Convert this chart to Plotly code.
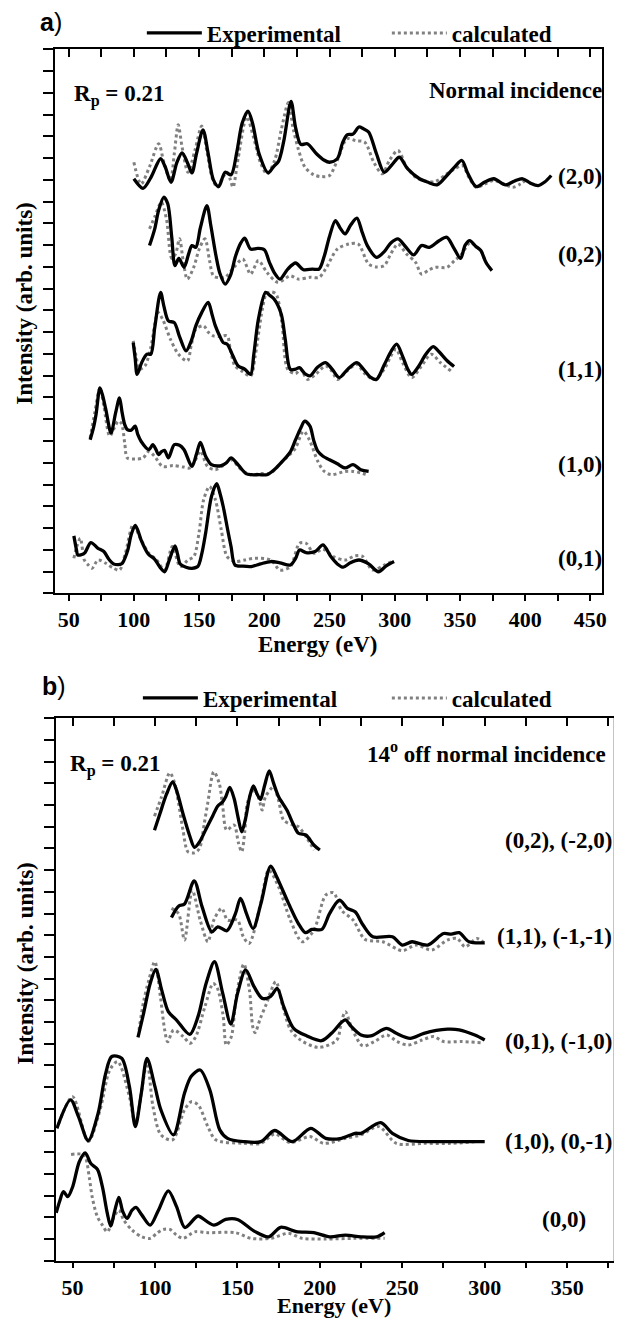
import plotly.graph_objects as go

# ---------------- data (energy eV, intensity in offset arb. units) ----------------
# Panel a) normal incidence
A20_EXP = [(100,19.05),(107,18.61),(113,19.1),(120.5,19.97),(124,19.6),(128.5,18.89),(133,19.8),(137,20.24),(141,19.8),(144.5,19.32),
           (148,20.2),(153,21.30),(157,20.2),(161,19.0),(165,18.69),(170,19.35),(174.5,19.23),(179,20.3),(183,21.6),(187.5,22.16),
           (191,21.6),(196,20.2),(203,19.32),(207,19.6),(211,19.86),(215,20.8),(220.5,22.61),(224,21.4),(228,20.63),(233,20.66),
           (240,20.2),(246,19.9),(250,19.81),(256,19.97),(260,20.7),(263.5,21.07),(268,21.1),(272.5,21.43),(276,21.35),(280,21.2),
           (286,20.2),(292,19.35),(298,19.7),(303.5,20.04),(310,19.5),(319,19.05),(325,18.9),(332.5,18.77),(340,19.2),(346,19.6),
           (351.5,19.89),(356,19.3),(362.5,18.69),(369,18.9),(376,19.05),(385,18.77),(392,18.95),(398,19.05),(404,18.85),(410,18.74),
           (415,18.9),(420,19.20)]
A20_CALC = [(100,19.81),(105.5,18.81),(112,19.6),(119,20.66),(123,19.8),(128,18.97),(131,20.2),(134,21.53),(137,20.5),(141.5,19.35),
            (147,20.4),(152,21.47),(156,20.3),(160,19.1),(164,18.66),(168,19.1),(171.5,19.35),(174,19.0),(176,18.66),(180,20.0),
            (186.5,21.89),(192,20.9),(197,19.8),(202,19.28),(208,19.9),(213,21.3),(218.5,22.55),(222,21.4),(226,20.43),(231,19.6),
            (238,19.23),(244,19.15),(250,19.20),(256,19.9),(263.5,20.89),(270,20.8),(277,20.73),(284,19.8),(290.5,19.28),(296,19.9),
            (302.5,20.35),(309,19.6),(316,19.12),(323,18.95),(331,18.92),(340,19.28),(346,19.5),(352,19.66),(357,19.1),(362.5,18.66),
            (369,18.8),(376,18.97),(384,18.8),(390.5,18.66),(396,18.8),(400,18.97)]
A02_EXP = [(112,15.98),(116,16.75),(119,17.6),(123,18.21),(126,17.9),(129,16.4),(131.5,15.06),(134.5,15.39),(138.5,14.98),(142,15.6),
           (144.5,15.98),(147.5,15.90),(151,16.8),(156,17.82),(159,16.9),(163,15.5),(166,14.7),(170,14.21),(174,14.6),(178,15.5),
           (182,16.1),(185,16.32),(189.5,15.82),(195,15.85),(200,15.79),(204,15.2),(208,14.7),(212,14.44),(218,14.9),(224,15.18),
           (230,14.87),(237,14.90),(242,14.90),(246,15.5),(250,16.4),(254.5,17.13),(258,16.8),(262,16.52),(266,16.9),(271,17.24),
           (275,16.6),(279,15.98),(286,15.44),(292,15.7),(297,16.1),(302.5,16.29),(308,15.95),(314.5,15.55),(320.5,15.98),(326.5,15.90),
           (334,16.2),(340,16.36),(345,15.9),(350.5,15.39),(354,16.0),(357.5,16.21),(362,15.95),(366,15.75),(370,15.2),(374.5,14.83)]
A02_CALC = [(112,16.75),(116,17.3),(121,17.97),(125,17.2),(129,15.4),(132,15.6),(135,16.29),(138,15.2),(141,14.44),(146,15.0),
            (150,15.8),(154.5,16.29),(158,15.3),(161,14.59),(166,14.5),(170,14.52),(177,15.0),(183.5,15.36),(189.5,14.67),(195.5,15.29),
            (202,14.75),(210.5,14.29),(220,14.59),(226,14.44),(235,14.52),(242,14.52),(247,14.90),(256,15.82),(265,16.05),(272,16.05),
            (280,15.13),(286,15.0),(292,15.06),(297,15.6),(302.5,16.05),(309,15.6),(316,15.21),(320.5,14.67),(326,14.85),(331,14.98),
            (340,14.98),(346,15.3),(350.5,15.52),(358,16.13),(362,15.95),(366,15.75),(370,15.2),(374.5,14.83)]
A11_EXP = [(99.5,11.52),(101,10.8),(102.5,10.06),(106,10.6),(110,10.99),(113,10.99),(116,12.2),(120.5,13.83),(123,13.2),(126.5,12.52),
           (131,12.44),(135,11.8),(140,11.14),(144,11.6),(147.5,12.29),(152,12.9),(157,13.37),(160,12.8),(162.5,12.29),(166,11.8),
           (168.5,11.52),(171.5,11.45),(176,10.9),(180,10.45),(185,10.3),(189.5,10.06),(192,11.0),(195.5,12.60),(201,13.83),(204,13.7),
           (207.5,13.52),(213,12.83),(216,11.7),(220,10.29),(224,10.3),(227,10.37),(231,10.1),(235,9.99),(241,10.4),(247,10.60),
           (252,10.3),(257.5,9.91),(264,10.3),(271,10.60),(276,10.3),(281,9.95),(286,9.83),(292,10.5),(297,11.1),(301.5,11.45),
           (306,10.9),(310,10.3),(313,10.06),(318,10.4),(324,11.0),(329.5,11.34),(334,11.1),(340,10.7),(345.5,10.42)]
A11_CALC = [(99.5,11.6),(102,10.8),(104,10.29),(108.5,10.45),(113,11.3),(118.5,12.9),(122,12.6),(128,11.68),(134,11.0),(141,10.68),
            (144,11.4),(147.5,12.14),(153.5,12.29),(157,12.0),(161,11.83),(166,11.8),(171.5,11.83),(174,11.2),(177.5,10.45),(183,10.2),
            (189.5,9.99),(193,10.9),(198.5,13.06),(201.5,13.75),(205,13.85),(209,13.75),(213.5,12.44),(218,10.29),(224,10.1),(228,10.3),
            (233,9.83),(240,10.1),(247,10.45),(252,10.2),(256,9.83),(263,10.2),(271,10.52),(277,10.1),(284.5,9.83),(292,10.3),
            (297,10.9),(301,11.22),(306,10.6),(313,9.91),(320,10.4),(328,10.99),(335,10.6),(343,10.22)]
A10_EXP = [(66.5,7.06),(69,7.6),(71,8.22),(74,9.44),(76,9.1),(78.5,8.45),(82.5,7.37),(86,8.29),(89,8.98),(91,8.3),
           (93,7.75),(95,7.52),(98,7.5),(101,7.68),(103,7.3),(105.5,6.99),(111.5,6.60),(114.5,6.83),(117,6.6),(119,6.37),
           (121,6.5),(123.5,6.57),(126.5,6.22),(131,6.83),(135,6.8),(138.5,6.60),(144.5,5.83),(148,6.4),(151,6.94),(155,6.3),
           (159.5,5.91),(164,5.85),(167,5.87),(171,6.0),(174.5,6.22),(180,5.9),(186,5.5),(190,5.45),(196,5.45),(202,5.45),
           (208,5.7),(214,6.07),(220,6.5),(224,7.06),(228,7.6),(231,7.91),(235,7.68),(238,7.0),(241,6.53),(245,6.3),
           (250,6.14),(256,5.95),(262,5.76),(268,5.91),(274,5.68),(280,5.60)]
A10_CALC = [(66.5,7.14),(70,8.3),(74,9.44),(77,8.6),(81.5,7.22),(85,7.6),(88,7.91),(90.5,7.8),(93,6.9),(95,6.22),
            (101,6.17),(107,6.22),(111.5,6.52),(116,6.29),(122,5.83),(130,5.87),(138,5.8),(143,5.76),(147,6.1),(151,6.53),
            (156.5,5.83),(162.5,5.68),(168,5.85),(174.5,6.14),(182,5.7),(189.5,5.45),(197,5.5),(205,5.53),(214,6.07),(220,6.4),
            (224,6.68),(230,7.45),(234.5,7.06),(241,6.07),(246,5.6),(251.5,5.45),(262,5.60),(268,5.6),(274,5.53),(278.5,5.45)]
A01_EXP = [(54,2.64),(56,2.0),(57,1.76),(62,1.84),(67,2.33),(72.5,2.07),(77,1.92),(81,1.55),(84.5,1.35),(90.5,1.35),
           (95,1.92),(98,2.7),(101,3.12),(103,2.9),(105.5,2.46),(111,1.81),(116,1.56),(120,1.2),(123.5,0.99),(127,1.5),
           (131.5,2.18),(133.5,1.8),(135.5,1.35),(140,1.2),(144.5,1.15),(149,1.23),(152,1.8),(155,2.76),(159.5,4.45),(163.5,5.04),
           (166,4.6),(168.5,3.99),(172,2.9),(174.5,2.15),(177.5,1.30),(183,1.25),(190,1.23),(197,1.35),(205,1.46),(212,1.4),
           (220,1.30),(224,1.6),(227,1.99),(232,1.87),(239,1.92),(245,2.22),(251,1.69),(256,1.35),(260.5,1.20),(266,1.4),
           (272.5,1.53),(280,1.35),(287.5,0.99),(293.5,1.26),(299.5,1.46)]
A01_CALC = [(54,1.61),(56.5,2.2),(59,2.53),(62,1.53),(65,1.3),(68,1.15),(72.5,1.53),(78.5,1.38),(84.5,1.15),(89,1.07),
            (93.5,1.84),(99.5,3.15),(105.5,2.46),(111.5,1.84),(117.5,1.53),(123.5,1.07),(129.5,2.15),(135.5,1.23),(141.5,1.53),(146,1.69),
            (150,2.8),(153.5,4.30),(158,4.91),(162.5,4.30),(167,2.92),(171.5,1.69),(177.5,1.46),(185,1.53),(192.5,1.61),(205,1.53),
            (212,1.07),(220,1.23),(227,2.30),(232,2.30),(238,1.84),(245,2.03),(253,1.69),(262,1.53),(269.5,1.72),(275.5,1.69),
            (283,1.07),(292,1.30),(298,1.46)]

# Panel b) 14 deg off normal incidence
B02_EXP = [(99.7,19.84),(103,20.6),(107,21.5),(110.7,22.07),(113,21.7),(117,20.6),(121,19.6),(124,19.05),(127,19.3),(131,19.9),
           (135,20.5),(138,20.95),(141,21.15),(143,21.4),(145.4,21.82),(148,21.3),(150.5,20.4),(152.6,19.77),(155,20.4),(157.5,21.4),
           (159.7,21.88),(162,21.5),(164,21.26),(166.5,21.9),(169.3,22.58),(172,22.0),(175,21.38),(180,20.77),(184,20.1),(187,19.70),
           (191.5,19.62),(196.5,19.15),(200,18.93)]
B02_CALC = [(99.7,20.49),(104,21.38),(109,22.49),(112,22.0),(114.5,21.0),(117,19.85),(120,18.85),(124,18.8),(127,19.0),(130,20.2),
            (132,21.08),(135.7,22.53),(139,22.0),(141,21.0),(143.5,19.85),(148,20.08),(150.5,19.3),(152.6,18.85),(154.5,19.8),(156,21.08),
            (160,21.72),(163,21.3),(165,20.77),(167,21.38),(172,21.84),(175,21.2),(178,20.31),(183,20.1),(187,20.0),(192,19.5),
            (196.5,18.93)]
B11_EXP = [(110,15.82),(114.3,16.34),(117.9,16.44),(123.8,17.51),(128.6,16.31),(134.5,15.16),(138.1,15.39),(143.6,15.21),(148.8,16.0),(151.9,16.70),
           (155.5,16.0),(159.5,15.31),(164.3,16.47),(170.2,18.19),(173.8,17.70),(181.0,16.47),(186.9,15.55),(191.2,15.12),(195.2,15.27),(201.2,15.27),
           (205.9,16.0),(211.9,16.62),(216.7,16.24),(221.4,16.08),(226.2,15.47),(232.1,14.93),(244.0,14.93),(250.0,14.55),(255.9,14.70),(265.5,14.55),
           (275.0,15.08),(279.8,15.05),(284.5,15.12),(290.5,14.70),(300,14.65)]
B11_CALC = [(110,16.24),(114.3,16.0),(117.9,14.78),(122.6,17.08),(127.4,15.70),(132.1,14.70),(135.7,15.70),(140.5,16.24),(144.0,15.70),(150,15.70),
            (153.6,14.93),(157.1,14.62),(164.3,16.54),(169.0,18.0),(175,17.23),(182.1,15.70),(189.3,14.70),(196.4,15.24),(203.6,16.85),(208.3,16.96),
            (213.1,16.16),(220.2,15.70),(227.4,14.81),(238.1,14.70),(250,14.29),(258.3,14.55),(267.9,14.32),(277.4,14.78),(283.3,14.85),(288.1,14.47),
            (295.2,14.85),(300,14.62)]
B01_EXP = [(89.7,10.29),(93.1,11.40),(97.1,12.78),(100.5,13.43),(104.1,12.47),(108.1,11.48),(113.1,11.09),(121.1,10.43),(126.1,11.25),(131.0,12.78),
           (136.1,13.78),(141.1,12.32),(146.0,10.91),(150.1,12.32),(155.0,13.40),(160.1,12.63),(165.1,12.09),(170.0,12.17),(174.1,12.55),(178.1,11.71),
           (184.1,10.71),(192.1,10.36),(201.1,10.14),(208.1,10.56),(212,10.9),(215.5,11.10),(219,10.8),(225,10.40),(230.9,10.36),(240.5,10.71),
           (246.4,10.48),(254.8,10.25),(263.1,10.48),(277.4,10.67),(284.5,10.64),(294,10.40),(300,10.17)]
B01_CALC = [(90.3,10.63),(93,11.9),(96.3,12.94),(99.9,13.78),(103.3,12.17),(105.9,10.63),(107.7,10.09),(111.3,10.63),(117.3,10.32),(121.3,10.02),
            (124.7,10.32),(130.3,11.71),(135.3,12.78),(137.9,12.55),(141.3,11.32),(143.3,9.94),(146.3,10.32),(149.3,12.17),(153.9,13.67),(157.3,12.47),
            (159.3,10.79),(160.7,10.51),(163.9,11.17),(167.3,11.78),(173.3,12.86),(177.3,11.78),(182.3,10.63),(188.3,10.17),(199.3,9.83),(210.3,10.17),
            (213,11.0),(215.5,11.48),(219,10.8),(226,9.90),(233,10.1),(240.5,10.40),(247,10.1),(253.5,9.94),(262,10.17),(269,10.33),
            (275,10.10),(286,10.10),(297.5,10.05)]
B10_EXP = [(40.5,6.10),(48.8,7.41),(53.6,6.64),(59.5,5.54),(65.5,6.79),(70,8.6),(73.8,9.41),(79.8,9.33),(84.5,8.02),(88.1,6.18),
           (91.7,7.72),(95.2,9.33),(100,8.02),(103.6,6.95),(111.2,5.80),(117.9,7.72),(122,8.5),(127.4,8.79),(133.3,7.87),(139.3,6.03),
           (144.0,5.64),(153.6,5.49),(164.3,5.49),(172.6,6.00),(183.3,5.49),(194.5,6.10),(203.6,5.64),(213.1,5.64),(221.4,5.87),(225,5.87),
           (236.9,6.36),(244.0,5.87),(253.6,5.54),(267.9,5.49),(282.1,5.49),(300,5.49)]
B10_CALC = [(41.7,6.33),(50,7.56),(59.5,5.49),(66.7,6.95),(72.6,8.79),(77.4,9.18),(84.5,7.56),(88.1,6.33),(95.2,9.10),(98.8,7.10),
            (103.6,5.80),(110.7,5.57),(117.9,6.95),(122.1,7.33),(126.2,7.18),(132.1,6.18),(136.9,5.57),(153.6,5.41),(164.3,5.41),(172.6,5.84),
            (182.1,5.44),(194,5.72),(202.4,5.41),(215.5,5.64),(225,5.80),(235.7,6.18),(246.4,5.41),(263.1,5.41),(279.8,5.41),(295.2,5.49)]
B00_EXP = [(40.1,2.21),(42.1,2.72),(44.5,3.18),(47.1,2.95),(50.1,3.41),(54.1,4.56),(57.7,4.97),(61.1,4.48),(65.1,4.21),(68.1,3.41),
           (71.1,2.18),(73.1,1.60),(75.7,2.33),(78.1,2.92),(80.5,2.26),(83.1,1.95),(86.1,2.33),(88.5,2.46),(92.1,2.10),(97.1,1.64),
           (102.1,2.33),(108.1,3.22),(113.1,2.49),(118.1,1.53),(124.1,1.95),(126.2,2.06),(135.7,1.64),(142.9,1.90),(150,1.90),(160.7,1.34),
           (169,1.10),(176.2,1.54),(185.7,1.34),(196.4,1.29),(206,1.10),(215.5,1.18),(225,1.10),(234.5,1.10),(239.3,1.29)]
B00_CALC = [(49.1,4.90),(56.1,4.90),(58.1,4.71),(60.1,3.87),(62.1,2.87),(65.1,2.02),(68.1,1.64),(71.1,1.33),(75.1,2.02),(78.1,2.33),
            (81.1,1.87),(86.1,1.41),(92.1,1.10),(97.1,1.03),(101.1,1.26),(105.1,1.44),(109.1,1.44),(113.1,1.18),(117.1,1.03),(124.1,1.33),
            (132.1,1.29),(148.8,1.29),(158.3,1.03),(170.2,1.03),(180.9,1.26),(189.3,1.03),(203.6,1.0),(220.2,1.03),(239.3,1.03)]

PANEL_A = [(A20_EXP, A20_CALC), (A02_EXP, A02_CALC), (A11_EXP, A11_CALC), (A10_EXP, A10_CALC), (A01_EXP, A01_CALC)]
PANEL_B = [(B02_EXP, B02_CALC), (B11_EXP, B11_CALC), (B01_EXP, B01_CALC), (B10_EXP, B10_CALC), (B00_EXP, B00_CALC)]

LABELS_A = ["(2,0)", "(0,2)", "(1,1)", "(1,0)", "(0,1)"]
LABEL_A_Y = [19.14, 15.58, 10.29, 5.94, 1.61]
LABELS_B = ["(0,2), (-2,0)", "(1,1), (-1,-1)", "(0,1), (-1,0)", "(1,0), (0,-1)", "(0,0)"]
LABEL_B_Y = [19.39, 14.93, 10.09, 5.48, 1.88]

X_TICKS_A = [50, 100, 150, 200, 250, 300, 350, 400, 450]
X_TICKS_B = [50, 100, 150, 200, 250, 300, 350]

# ---------------- style ----------------
SERIF = 'Liberation Serif, "Times New Roman", Times, serif'
SANS = 'Liberation Sans, Arial, sans-serif'
EXP_STYLE = dict(color="black", width=3.3, shape="spline", smoothing=0.85)
CALC_STYLE = dict(color="#808080", width=3, dash="3px,3px", shape="spline", smoothing=0.85)
TXT = 23

W, H = 620, 1321
def px(x):
    return x / W
def py(y):
    return 1 - y / H

fig = go.Figure()

def add_panel(curves, xa, ya, leg_exp, leg_calc):
    for i, (exp, calc) in enumerate(curves):
        fig.add_trace(go.Scatter(
            x=[p[0] for p in calc], y=[p[1] for p in calc], mode="lines",
            line=CALC_STYLE, name="calculated", legend=leg_calc,
            showlegend=(i == 0), xaxis=xa, yaxis=ya, hoverinfo="skip"))
        fig.add_trace(go.Scatter(
            x=[p[0] for p in exp], y=[p[1] for p in exp], mode="lines",
            line=EXP_STYLE, name="Experimental", legend=leg_exp,
            showlegend=(i == 0), xaxis=xa, yaxis=ya, hoverinfo="skip"))

add_panel(PANEL_A, "x", "y", "legend", "legend2")
add_panel(PANEL_B, "x2", "y2", "legend3", "legend4")

# dummy traces so the overlay (frame) axes are drawn
for xa, ya in [("x3", "y"), ("x4", "y2"), ("x2", "y3")]:
    fig.add_trace(go.Scatter(x=[None], y=[None], xaxis=xa, yaxis=ya,
                             showlegend=False, hoverinfo="skip"))

DOM_AX = [px(55.4), px(607)]
DOM_AY = [py(593.3), py(49.3)]
DOM_BX = [px(56.5), px(618.3)]
DOM_BY = [py(1260.7), py(718.3)]
RANGE_AX = [39.5, 459]
RANGE_BX = [40, 378]

tickfont = dict(family=SERIF, size=22, color="black", weight="bold")

def bottom_axis(domain, rng, anchor, ticks):
    return dict(domain=domain, range=rng, anchor=anchor, showline=True, linecolor="black",
                linewidth=1.5, ticks="outside", ticklen=6, tickwidth=1.5, tickcolor="black",
                tickvals=ticks, minor=dict(ticks="outside", ticklen=6, tickwidth=1.5,
                                           tickcolor="black", dtick=25, tick0=0),
                tickfont=tickfont, ticklabelstandoff=0, showgrid=False, zeroline=False)

def top_axis(rng, overlay, anchor):
    return dict(range=rng, overlaying=overlay, side="top", anchor=anchor, showline=True,
                linecolor="black", linewidth=1.5, ticks="inside", ticklen=8, tickwidth=1.5,
                tickcolor="black", dtick=25, tick0=0, showticklabels=False, showgrid=False,
                zeroline=False)

def left_axis(domain, anchor, mirror):
    return dict(domain=domain, range=[0, 25], anchor=anchor, showline=True, linecolor="black",
                linewidth=1.5, mirror=mirror, ticks="outside", ticklen=10, tickwidth=1.5,
                tickcolor="black", dtick=1, tick0=0, showticklabels=False, showgrid=False,
                zeroline=False)

legend_common = dict(orientation="h", xanchor="left", yanchor="middle", itemwidth=55,
                     bgcolor="rgba(0,0,0,0)", borderwidth=0,
                     font=dict(family=SERIF, size=TXT, color="black", weight="bold"))

fig.update_layout(
    width=W, height=H, margin=dict(l=0, r=0, t=0, b=0),
    paper_bgcolor="white", plot_bgcolor="white",
    font=dict(family=SERIF, color="black"),
    xaxis=bottom_axis(DOM_AX, RANGE_AX, "y", X_TICKS_A),
    yaxis=left_axis(DOM_AY, "x", True),
    xaxis2=bottom_axis(DOM_BX, RANGE_BX, "y2", X_TICKS_B),
    yaxis2=left_axis(DOM_BY, "x2", False),
    xaxis3=top_axis(RANGE_AX, "x", "y"),
    xaxis4=top_axis(RANGE_BX, "x2", "y2"),
    yaxis3=dict(range=[0, 25], overlaying="y2", side="right", anchor="x2", showline=True,
                linecolor="#c4c4c4", linewidth=1, ticks="", showticklabels=False,
                showgrid=False, zeroline=False),
    legend=dict(x=px(143), y=py(33), **legend_common),
    legend2=dict(x=px(390), y=py(33), **legend_common),
    legend3=dict(x=px(139), y=py(698), **legend_common),
    legend4=dict(x=px(390), y=py(698), **legend_common),
    showlegend=True,
)

ann = []
def text(t, x, y, xref="paper", yref="paper", xanchor="left", yanchor="middle",
         size=TXT, family=SERIF, angle=0, weight="bold"):
    ann.append(dict(text=t, x=x, y=y, xref=xref, yref=yref, xanchor=xanchor, yanchor=yanchor,
                    showarrow=False, textangle=angle,
                    font=dict(family=family, size=size, color="black", weight=weight)))

# panel letters
text("<b>a</b>)", px(38), py(22), size=25, family=SANS, weight="normal")
text("<b>b</b>)", px(40), py(686), size=25, family=SANS, weight="normal")
# R-factor & geometry notes
text("R<sub>p</sub> = 0.21", px(73), py(95))
text("Normal incidence", px(609), py(91), xanchor="right")
text("R<sub>p</sub> = 0.21", px(69), py(766))
text("14<sup>o</sup> off normal incidence", px(613), py(752), xanchor="right")
# curve labels
for lab, yv in zip(LABELS_A, LABEL_A_Y):
    text(lab, px(609), yv, yref="y", xanchor="right")
for lab, yv in zip(LABELS_B, LABEL_B_Y):
    if lab == "(0,0)":
        text(lab, px(569), yv, yref="y2", xanchor="center")
    else:
        text(lab, px(619), yv, yref="y2", xanchor="right")
# axis titles
text("Energy (eV)", px(320), py(644), xanchor="center")
text("Energy (eV)", px(337), py(1320), xanchor="center", yanchor="bottom", size=22)
text("Intensity (arb. units)", px(24), py(303), xanchor="center", angle=-90)
text("Intensity (arb. units)", px(25), py(963), xanchor="center", angle=-90)

fig.update_layout(annotations=ann)
fig.write_html("out.html")
